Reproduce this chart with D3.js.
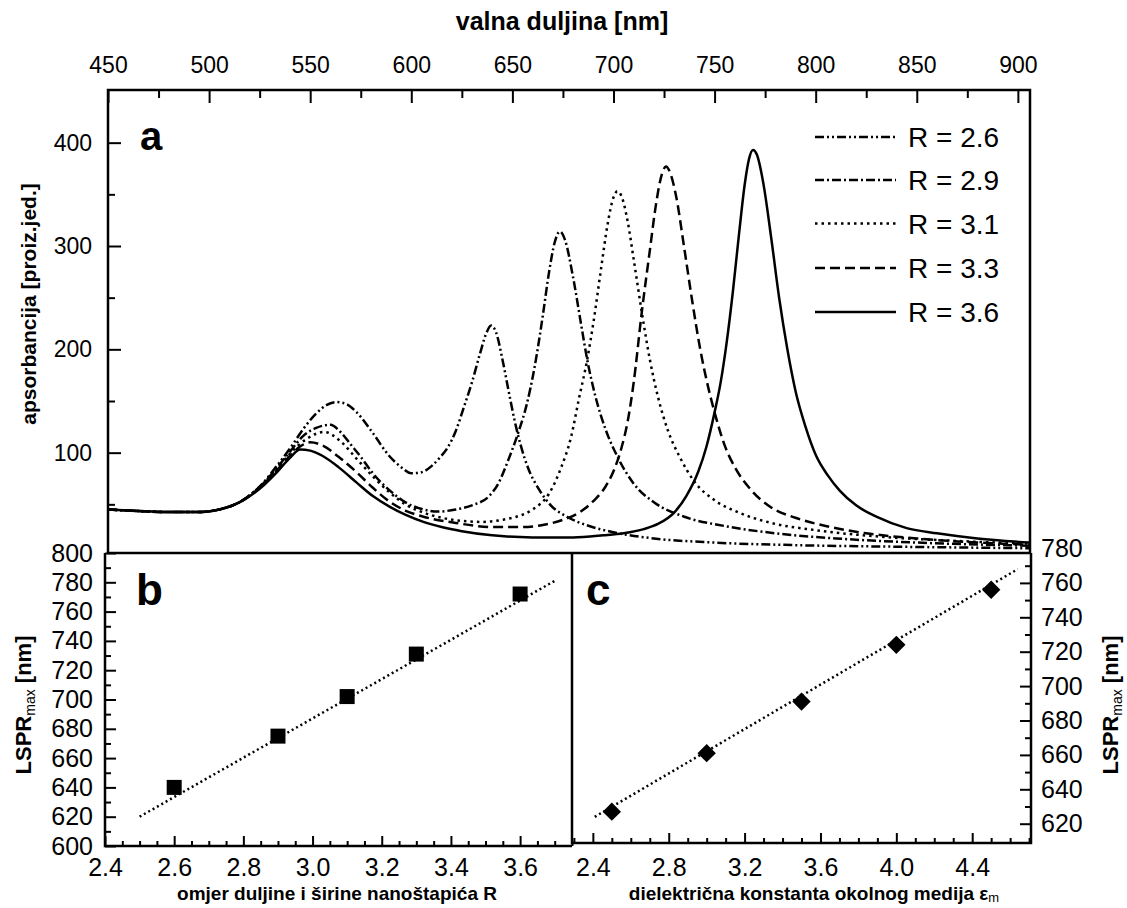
<!DOCTYPE html>
<html><head><meta charset="utf-8">
<script src="https://cdn.jsdelivr.net/npm/d3@7"></script>
<style>
body{margin:0;background:#fff;}
svg{display:block;font-family:"Liberation Sans",Arial,sans-serif;}
</style></head><body>
<script>
// ---------- DATA ----------
const wlTicks = [450,500,550,600,650,700,750,800,850,900];
const wlMinor = [475,525,575,625,675,725,775,825,875];
const absTicks = [100,200,300,400];
const absMinor = [50,150,250,350];
const seriesLabels = ["R = 2.6","R = 2.9","R = 3.1","R = 3.3","R = 3.6"];

const r26 = [[450,45],[465,43.5],[480,42.5],[495,42.5],[505,45],[515,52],[525,67],[533,86],[540,104],[547,124],[553,138],[558,146],[563,149],[568,147],[573,139],[581,119],[589,97],[595,86],[600,80],[605,81],[610,87],[614,95],[618,105],[622,121],[626,144],[630,168],[634,196],[637,215],[639.5,223],[642,216],[645,191],[648,161],[651,132],[654,108],[658,84],[663,65],[669,49],[677,38],[688,29],[700,23],[720,17],[750,13],[790,10.5],[840,9],[906,7.5]];
const r29 = [[450,45],[465,43.5],[480,42.5],[495,42.5],[505,45],[515,52],[525,67],[533,84],[540,101],[547,117],[553,124],[560,127],[565,120],[570,108],[575,96],[581,80],[589,64],[598,51],[606,45],[613,43],[622,45],[630,49],[639,59],[643,70],[648,93],[653,120],[657,146],[661,183],[665,232],[668,273],[671,304],[673.5,314],[676,306],[680,270],[684,224],[687,190],[691,155],[696,123],[702,96],[710,70],[720,52],[735,38],[755,29],[780,22],[810,17],[850,13],[906,10]];
const r31 = [[450,45],[465,43.5],[480,42.5],[495,42.5],[505,45],[515,52],[525,67],[533,83],[540,99],[548,113],[557,120],[565,111],[573,94],[581,77],[589,62],[597,50],[606,42],[615,37],[625,34],[635,33],[645,35],[652,38],[660,45],[668,60],[674,85],[679,115],[683,153],[687,190],[690,225],[694,280],[697,320],[700,347],[702,353],[704,348],[707,324],[710,287],[714,236],[718,190],[722,154],[727,121],[733,95],[740,72],[750,54],[762,42],[778,32],[800,25],[830,19],[865,15],[906,12]];
const r33 = [[450,45],[465,43.5],[480,42.5],[495,42.5],[505,45],[515,52],[525,66],[533,82],[540,97],[545,106],[550,110],[556,107],[564,96],[573,81],[581,66],[589,53],[597,44],[606,38],[622,32],[640,28],[655,28],[665,30],[675,35],[683,42],[690,53],[696,67],[700,82],[704,105],[707,130],[710,168],[714,236],[718,296],[721,340],[724,370],[726,377],[728,371],[731,348],[735,298],[739,246],[743,199],[747,162],[750,139],[755,107],[760,86],[768,64],[778,47],[790,37],[805,29],[825,22],[850,17],[880,13],[906,11]];
const r36 = [[450,45],[465,43.5],[480,42.5],[495,42.5],[505,45],[515,52],[525,65],[533,80],[540,95],[545,103],[550,102],[556,97],[564,86],[573,71],[581,58],[589,48],[597,40],[606,33],[615,28],[625,24],[640,20],[660,18],[680,18],[695,20],[705,22],[715,26],[722,31],[730,42],[736,58],[742,82],[746,106],[750,139],[753,168],[756,207],[759,255],[762,310],[765,361],[767,384],[769,393],[771,388],[774,362],[778,308],[782,249],[786,200],[790,160],[795,125],[800,98],[806,78],[812,63],[820,49],[830,38],[845,27],[860,22],[880,17],[906,13]];

const ratioR = [2.6,2.9,3.1,3.3,3.6];
const lsprB  = [640,675,702,731,772];
const fitB   = [[2.5,620],[3.7,781]];
const bXTicks = [2.4,2.6,2.8,3.0,3.2,3.4,3.6];
const bYTicks = [600,620,640,660,680,700,720,740,760,780,800];

const epsM  = [2.5,3.0,3.5,4.0,4.5];
const lsprC = [627,661,691,724,756];
const fitC  = [[2.41,624],[4.64,768]];
const cXTicks = [2.4,2.8,3.2,3.6,4.0,4.4];
const cYTicks = [620,640,660,680,700,720,740,760,780];

// ---------- SETUP ----------
const W = 1127, H = 908;
const FONT = "Liberation Sans, Arial, sans-serif";
const svg = d3.select("body").append("svg").attr("width",W).attr("height",H);
svg.append("rect").attr("width",W).attr("height",H).attr("fill","#fff");

function styleAxis(g, fs){
  g.select(".domain").remove();
  g.attr("font-family",FONT).attr("font-size",fs||23);
  g.selectAll(".tick line").attr("stroke","#000").attr("stroke-width",2);
  g.selectAll(".tick text").attr("fill","#000");
}

// ---------- PANEL A ----------
const A = {l:108, r:1030, t:90, b:553};
const xA = d3.scaleLinear().domain([450,906]).range([A.l,A.r]);
const yA = d3.scaleLinear().domain([0,450]).range([556,91]);

svg.append("g").attr("transform",`translate(0,${A.t})`)
  .call(d3.axisTop(xA).tickValues(wlMinor).tickSize(-8).tickFormat(""))
  .call(g=>styleAxis(g));
svg.append("g").attr("transform",`translate(0,${A.t})`)
  .call(d3.axisTop(xA).tickValues(wlTicks).tickSize(-13).tickPadding(17).tickFormat(d3.format("d")))
  .call(g=>styleAxis(g,23));
svg.append("g").attr("transform",`translate(${A.l},0)`)
  .call(d3.axisLeft(yA).tickValues(absMinor).tickSize(-7).tickFormat(""))
  .call(g=>styleAxis(g));
svg.append("g").attr("transform",`translate(${A.l},0)`)
  .call(d3.axisLeft(yA).tickValues(absTicks).tickSize(-13).tickPadding(16).tickFormat(d3.format("d")))
  .call(g=>styleAxis(g,23));

svg.append("defs").append("clipPath").attr("id","clipA")
  .append("rect").attr("x",A.l).attr("y",A.t).attr("width",A.r-A.l).attr("height",A.b-A.t);

const series = [
  {label:seriesLabels[0], data:r26, dash:"9,3,2,3,2,3"},
  {label:seriesLabels[1], data:r29, dash:"9,3,2,3"},
  {label:seriesLabels[2], data:r31, dash:"2.5,4"},
  {label:seriesLabels[3], data:r33, dash:"10,5"},
  {label:seriesLabels[4], data:r36, dash:null}
];
const lineA = d3.line().x(d=>xA(d[0])).y(d=>yA(d[1])).curve(d3.curveMonotoneX);
const gCurves = svg.append("g").attr("clip-path","url(#clipA)");
series.forEach(s=>{
  gCurves.append("path").attr("d",lineA(s.data)).attr("fill","none")
    .attr("stroke","#000").attr("stroke-width",2.5)
    .attr("stroke-dasharray",s.dash);
});

// legend
const legRows = [137,180,223.5,268,312];
series.forEach((s,i)=>{
  svg.append("line").attr("x1",815).attr("x2",896).attr("y1",legRows[i]).attr("y2",legRows[i])
    .attr("stroke","#000").attr("stroke-width",2.5).attr("stroke-dasharray",s.dash);
  svg.append("text").attr("x",908).attr("y",legRows[i]).attr("dy","0.36em")
    .attr("font-size",28).attr("font-family",FONT).text(s.label);
});

svg.append("text").attr("x",140).attr("y",150).attr("font-size",40).attr("font-weight","bold")
  .attr("font-family",FONT).text("a");

svg.append("rect").attr("x",A.l).attr("y",A.t).attr("width",A.r-A.l).attr("height",A.b-A.t)
  .attr("fill","none").attr("stroke","#000").attr("stroke-width",2.5);

svg.append("text").attr("x",562).attr("y",30).attr("text-anchor","middle")
  .attr("font-size",25).attr("font-weight","bold").attr("font-family",FONT).text("valna duljina [nm]");
svg.append("text").attr("transform","translate(36,304) rotate(-90)").attr("text-anchor","middle")
  .attr("font-size",21).attr("font-weight","bold").attr("font-family",FONT).text("apsorbancija [proiz.jed.]");

// ---------- PANEL B ----------
const B = {l:105, r:572, t:553, b:846};
const xB = d3.scaleLinear().domain([2.4,3.75]).range([B.l,B.r]);
const yB = d3.scaleLinear().domain([600,800]).range([B.b,B.t]);

svg.append("g").attr("transform",`translate(0,${B.b})`)
  .call(d3.axisBottom(xB).tickValues(d3.range(2.45,3.76,0.05).filter(v=>Math.abs(v*5-Math.round(v*5))>1e-6)).tickSize(-5).tickFormat(""))
  .call(g=>styleAxis(g));
svg.append("g").attr("transform",`translate(0,${B.b})`)
  .call(d3.axisBottom(xB).tickValues(bXTicks).tickSize(-10).tickPadding(12).tickFormat(d3.format(".1f")))
  .call(g=>styleAxis(g,25));
svg.append("g").attr("transform",`translate(${B.l},0)`)
  .call(d3.axisLeft(yB).tickValues(d3.range(610,800,20)).tickSize(-6).tickFormat(""))
  .call(g=>styleAxis(g));
svg.append("g").attr("transform",`translate(${B.l},0)`)
  .call(d3.axisLeft(yB).tickValues(bYTicks).tickSize(-11).tickPadding(12).tickFormat(d3.format("d")))
  .call(g=>styleAxis(g,25));

const lineB = d3.line().x(d=>xB(d[0])).y(d=>yB(d[1]));
svg.append("path").attr("d",lineB(fitB)).attr("fill","none").attr("stroke","#000")
  .attr("stroke-width",2.5).attr("stroke-dasharray","2,3");
svg.append("g").selectAll("rect").data(ratioR).join("rect")
  .attr("x",(d,i)=>xB(d)-7.5).attr("y",(d,i)=>yB(lsprB[i])-7.5)
  .attr("width",15).attr("height",15).attr("fill","#000");

svg.append("text").attr("x",136).attr("y",605).attr("font-size",44).attr("font-weight","bold")
  .attr("font-family",FONT).text("b");

svg.append("path").attr("d",`M${B.l},${B.t}V${B.b}H${B.r}`).attr("fill","none")
  .attr("stroke","#000").attr("stroke-width",2.5);

// ---------- PANEL C ----------
const C = {l:572, r:1031, t:553, b:843};
const xC = d3.scaleLinear().domain([2.29,4.71]).range([C.l,C.r]);
const yC = d3.scaleLinear().domain([620,780]).range([823.7,548.5]);

svg.append("g").attr("transform",`translate(0,${C.b})`)
  .call(d3.axisBottom(xC).tickValues(d3.range(2.3,4.71,0.1).filter(v=>Math.abs((v-2.4)/0.4-Math.round((v-2.4)/0.4))>1e-6)).tickSize(-5).tickFormat(""))
  .call(g=>styleAxis(g));
svg.append("g").attr("transform",`translate(0,${C.b})`)
  .call(d3.axisBottom(xC).tickValues(cXTicks).tickSize(-10).tickPadding(15).tickFormat(d3.format(".1f")))
  .call(g=>styleAxis(g,25));
svg.append("g").attr("transform",`translate(${C.r},0)`)
  .call(d3.axisRight(yC).tickValues(d3.range(630,780,20)).tickSize(-6).tickFormat(""))
  .call(g=>styleAxis(g));
svg.append("g").attr("transform",`translate(${C.r},0)`)
  .call(d3.axisRight(yC).tickValues(cYTicks).tickSize(-11).tickPadding(10).tickFormat(d3.format("d")))
  .call(g=>{styleAxis(g,25); g.selectAll(".tick").filter(d=>d===780).select("line").remove();});

const lineC = d3.line().x(d=>xC(d[0])).y(d=>yC(d[1]));
svg.append("path").attr("d",lineC(fitC)).attr("fill","none").attr("stroke","#000")
  .attr("stroke-width",2.5).attr("stroke-dasharray","2,3");
svg.append("g").selectAll("rect").data(epsM).join("rect")
  .attr("x",-6.5).attr("y",-6.5).attr("width",13).attr("height",13)
  .attr("transform",(d,i)=>`translate(${xC(d)},${yC(lsprC[i])}) rotate(45)`)
  .attr("fill","#000");

svg.append("text").attr("x",586).attr("y",605).attr("font-size",44).attr("font-weight","bold")
  .attr("font-family",FONT).text("c");

svg.append("path").attr("d",`M${C.l},${C.t}V${C.b}H${C.r}V${C.t}`).attr("fill","none")
  .attr("stroke","#000").attr("stroke-width",2.5);

// ---------- AXIS TITLES B / C ----------
function lsprTitle(x,y){
  const t = svg.append("text").attr("transform",`translate(${x},${y}) rotate(-90)`)
    .attr("text-anchor","middle").attr("font-size",22).attr("font-weight","bold").attr("font-family",FONT);
  t.append("tspan").text("LSPR");
  t.append("tspan").attr("font-size",14).attr("font-weight","normal").attr("dy",4).text("max");
  t.append("tspan").attr("dy",-4).text(" [nm]");
}
lsprTitle(31,705);
lsprTitle(1118,705);

svg.append("text").attr("x",337).attr("y",900).attr("text-anchor","middle")
  .attr("font-size",19).attr("font-weight","bold").attr("font-family",FONT)
  .text("omjer duljine i širine nanoštapića R");
const ct = svg.append("text").attr("x",814).attr("y",900).attr("text-anchor","middle")
  .attr("font-size",19).attr("font-weight","bold").attr("font-family",FONT);
ct.append("tspan").text("dielektrična konstanta okolnog medija ε");
ct.append("tspan").attr("font-size",13).attr("font-weight","normal").attr("dy",2).text("m");
</script>
</body></html>
